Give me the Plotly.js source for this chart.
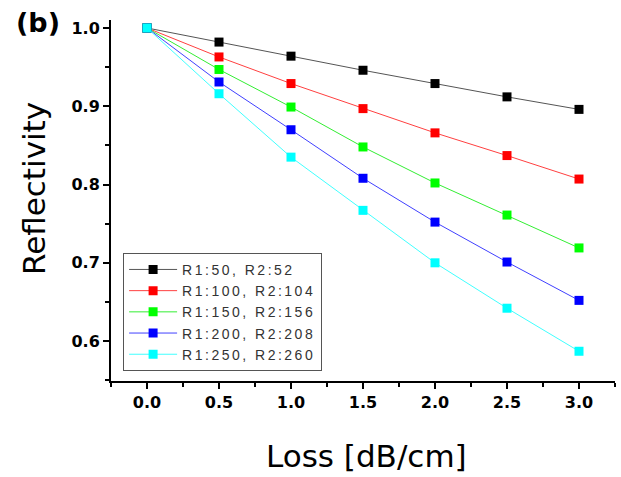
<!DOCTYPE html>
<html><head><meta charset="utf-8">
<script src="https://cdn.plot.ly/plotly-3.0.1.min.js"></script>
<style>body{margin:0;padding:0;background:#fff}#chart{width:621px;height:477px}
.legendtext{letter-spacing:2.5px}</style>
</head><body><div id="chart"></div>
<script>
const loss = [0.0, 0.5, 1.0, 1.5, 2.0, 2.5, 3.0];
const seriesNames = ["R1:50, R2:52", "R1:100, R2:104", "R1:150, R2:156", "R1:200, R2:208", "R1:250, R2:260"];
const r50  = [1.0, 0.982, 0.964, 0.946, 0.929, 0.912, 0.896];
const r100 = [1.0, 0.963, 0.929, 0.897, 0.866, 0.837, 0.807];
const r150 = [1.0, 0.947, 0.899, 0.848, 0.802, 0.761, 0.719];
const r200 = [1.0, 0.931, 0.870, 0.808, 0.752, 0.701, 0.652];
const r250 = [1.0, 0.916, 0.835, 0.767, 0.700, 0.642, 0.587];
const xTicks = [0, 0.5, 1.0, 1.5, 2.0, 2.5, 3.0];
const xTickText = ["0.0","0.5","1.0","1.5","2.0","2.5","3.0"];
const yTicks = [0.6, 0.7, 0.8, 0.9, 1.0];
const yTickText = ["0.6","0.7","0.8","0.9","1.0"];
const colors = ["#000000", "#ff0000", "#00ff00", "#0000ff", "#00ffff"];
const lineColors = ["#555555", "#ff4040", "#33ee33", "#4040ff", "#40ffff"];
const allY = [r50, r100, r150, r200, r250];

const traces = allY.map((y, i) => ({
  x: loss, y: y, name: seriesNames[i], type: "scatter", mode: "lines+markers",
  line: {color: lineColors[i], width: 1},
  marker: {symbol: "square", size: 9, color: colors[i], line: {width: 0}}
}));

const F = "Arial, 'Liberation Sans', sans-serif";
const D = "'DejaVu Sans', sans-serif";
const layout = {
  width: 621, height: 477,
  margin: {l: 111, r: 6, t: 20, b: 96},
  paper_bgcolor: "#fff", plot_bgcolor: "#fff",
  showlegend: true,
  legend: {x: 0.024, y: 0.355, xanchor: "left", yanchor: "top",
    bordercolor: "#555", borderwidth: 1, bgcolor: "#fff",
    font: {family: F, size: 14, color: "#333"},
    tracegroupgap: 0, itemwidth: 48},
  xaxis: {range: [-0.25, 3.25], tickvals: xTicks, ticktext: xTickText,
    showgrid: false, zeroline: false, showline: true, linecolor: "#000", linewidth: 2,
    ticks: "outside", ticklen: 6, tickwidth: 2, tickcolor: "#000",
    minor: {dtick: 0.25, tick0: 0, ticks: "outside", ticklen: 4, tickwidth: 2, tickcolor: "#000"},
    tickfont: {family: D, size: 16, color: "#000", weight: 700}},
  yaxis: {range: [0.549, 1.0102], tickvals: yTicks, ticktext: yTickText,
    showgrid: false, zeroline: false, showline: true, linecolor: "#000", linewidth: 2,
    ticks: "outside", ticklen: 6, tickwidth: 2, tickcolor: "#000",
    minor: {dtick: 0.05, tick0: 0, ticks: "outside", ticklen: 4, tickwidth: 2, tickcolor: "#000"},
    tickfont: {family: D, size: 16, color: "#000", weight: 700}},
  annotations: [
    {text: "<b>(b)</b>", xref: "paper", yref: "paper", x: -0.145, y: 0.994, xanchor: "center", yanchor: "middle",
      showarrow: false, font: {family: D, size: 27, color: "#000"}},
    {text: "Loss [dB/cm]", xref: "paper", yref: "paper", x: (366-111)/504, y: (381-456)/361, xanchor: "center", yanchor: "middle",
      showarrow: false, font: {family: D, size: 31, color: "#000"}},
    {text: "Reflectivity", xref: "paper", yref: "paper", x: (34-111)/504, y: (381-189)/361, xanchor: "center", yanchor: "middle",
      textangle: -90, showarrow: false, font: {family: D, size: 31, color: "#000"}}
  ]
};
Plotly.newPlot("chart", traces, layout, {displayModeBar: false});
</script></body></html>
